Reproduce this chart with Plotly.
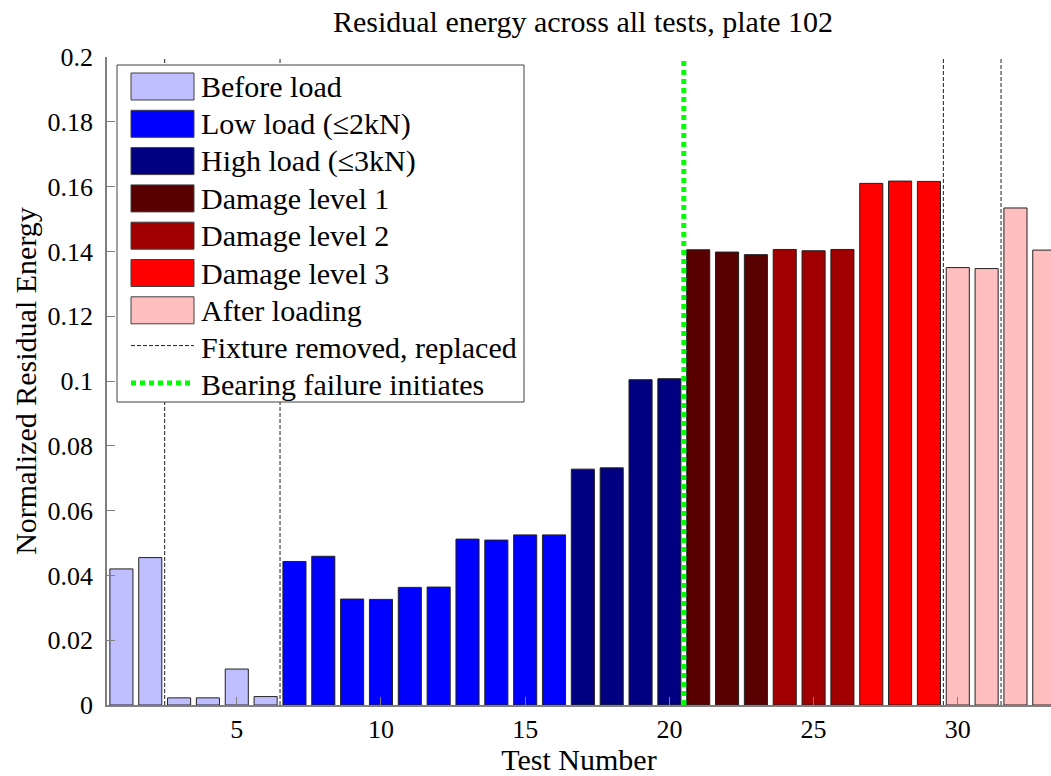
import plotly.graph_objects as go

# Test numbers and the normalized residual energy measured for each one
tests = list(range(1, 34))
energy = [0.0420, 0.0455, 0.0022, 0.0022, 0.0111, 0.0026,
          0.0443, 0.0459, 0.0327, 0.0326, 0.0363, 0.0364,
          0.0512, 0.0509, 0.0525, 0.0525,
          0.0728, 0.0732, 0.1004, 0.1007,
          0.1405, 0.1398, 0.1390,
          0.1406, 0.1402, 0.1406,
          0.1610, 0.1617, 0.1616,
          0.1350, 0.1347, 0.1534, 0.1404]
phase = (["Before load"] * 6 + ["Low load (≤2kN)"] * 10 + ["High load (≤3kN)"] * 4
         + ["Damage level 1"] * 3 + ["Damage level 2"] * 3 + ["Damage level 3"] * 3
         + ["After loading"] * 4)

categories = ["Before load", "Low load (≤2kN)", "High load (≤3kN)",
              "Damage level 1", "Damage level 2", "Damage level 3", "After loading"]
colors = ["#BFBFFF", "#0000FF", "#000080", "#580000", "#A00000", "#FF0000", "#FFBFBF"]

# Events marked with vertical lines
fixture_changes = [2.5, 6.5, 29.5, 31.5]
bearing_failure = 20.5

FONT = "Liberation Serif"
W, H = 1051, 776
ML, MT, MB = 107, 57, 71
PW, PH = W - ML, H - MT - MB
XPX = 28.84  # pixels per test
x_range = [0.5, 0.5 + PW / XPX]
y_range = [0, 0.2]

fig = go.Figure()
for cat, col in zip(categories, colors):
    xs = [t for t, p in zip(tests, phase) if p == cat]
    ys = [e for e, p in zip(energy, phase) if p == cat]
    fig.add_trace(go.Bar(x=xs, y=ys, name=cat, width=0.8,
                         marker=dict(color=col, line=dict(color="#222222", width=1)),
                         showlegend=False))

shapes = []
for xv in fixture_changes:
    shapes.append(dict(type="line", xref="x", yref="y", x0=xv, x1=xv, y0=0, y1=0.2,
                       line=dict(color="#202020", width=1, dash="4px,2px")))
shapes.append(dict(type="line", xref="x", yref="y", x0=bearing_failure, x1=bearing_failure,
                   y0=0, y1=0.2, line=dict(color="#00FF00", width=5, dash="5px,4px")))


def px_x(p):
    return (p - ML) / PW


def px_y(p):
    return (MT + PH - p) / PH


# Legend box
shapes.append(dict(type="rect", xref="paper", yref="paper",
                   x0=px_x(117), x1=px_x(524), y0=px_y(402), y1=px_y(65),
                   fillcolor="white", line=dict(color="#404040", width=1)))

annotations = []
row0, step = 86.5, 37.3
labels = categories + ["Fixture removed, replaced", "Bearing failure initiates"]
for i, lab in enumerate(labels):
    cy = row0 + step * i
    if i < len(categories):
        shapes.append(dict(type="rect", xref="paper", yref="paper",
                           x0=px_x(131), x1=px_x(194), y0=px_y(cy + 13.5), y1=px_y(cy - 13.5),
                           fillcolor=colors[i], line=dict(color="#404040", width=1)))
    elif i == len(categories):
        shapes.append(dict(type="line", xref="paper", yref="paper",
                           x0=px_x(131), x1=px_x(194), y0=px_y(cy - 2), y1=px_y(cy - 2),
                           line=dict(color="#202020", width=1, dash="4px,2px")))
    else:
        shapes.append(dict(type="line", xref="paper", yref="paper",
                           x0=px_x(131), x1=px_x(194), y0=px_y(cy - 2), y1=px_y(cy - 2),
                           line=dict(color="#00FF00", width=5, dash="5px,4px")))
    annotations.append(dict(xref="paper", yref="paper", x=px_x(199), y=px_y(cy),
                            xanchor="left", yanchor="middle", showarrow=False,
                            text=lab, font=dict(family=FONT, size=30, color="black")))

fig.update_layout(
    width=W, height=H,
    margin=dict(l=ML, r=0, t=MT, b=MB),
    paper_bgcolor="white", plot_bgcolor="white",
    font=dict(family=FONT, size=26, color="black"),
    title=dict(text="Residual energy across all tests, plate 102", x=583 / W,
               xanchor="center", y=1 - 21 / H, yanchor="middle",
               font=dict(family=FONT, size=30, color="black")),
    bargap=0.2,
    shapes=shapes,
    annotations=annotations,
    xaxis=dict(range=x_range, tickvals=[5, 10, 15, 20, 25, 30], ticks="inside", ticklen=8,
               tickcolor="#808080", showline=True, linecolor="#808080", linewidth=1.5,
               showgrid=False, zeroline=False, ticklabelstandoff=0,
               title=dict(text="Test Number", standoff=2,
                          font=dict(family=FONT, size=30)),
               tickfont=dict(family=FONT, size=26)),
    yaxis=dict(range=y_range, dtick=0.02, ticks="inside", ticklen=8,
               tickcolor="#808080", showline=True, linecolor="#808080", linewidth=1.5,
               showgrid=False, zeroline=False, ticklabelstandoff=7,
               title=dict(text="Normalized Residual Energy", standoff=2,
                          font=dict(family=FONT, size=30)),
               tickfont=dict(family=FONT, size=26)),
)

fig.write_html("out.html")
